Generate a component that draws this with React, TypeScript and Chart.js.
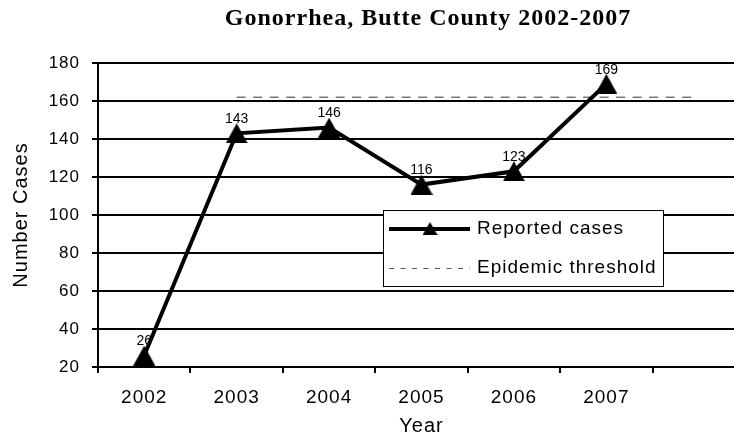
import React, { useEffect, useRef } from 'react';
import { Chart, registerables } from 'chart.js';

Chart.register(...registerables);

// ---- data ----
const categories = ['2002', '2003', '2004', '2005', '2006', '2007', ''];
const reportedCases = [26, 143, 146, 116, 123, 169, null];
const epidemicThreshold = [null, 162, 162, 162, 162, 162, 162];
const yMin = 20;
const yMax = 180;
const yStep = 20;
const titleText = 'Gonorrhea, Butte County 2002-2007';
const seriesNames = ['Reported cases', 'Epidemic threshold'];
const xTitle = 'Year';
const yTitle = 'Number Cases';

const SANS = "'Liberation Sans', Arial, sans-serif";
const SERIF = "'Liberation Serif', 'Times New Roman', serif";

function makeTriangle(w: number, h: number): HTMLCanvasElement {
  const c = document.createElement('canvas');
  c.width = w;
  c.height = h;
  const g = c.getContext('2d')!;
  g.fillStyle = '#000';
  g.beginPath();
  g.moveTo(w / 2, 0);
  g.lineTo(w, h);
  g.lineTo(0, h);
  g.closePath();
  g.fill();
  return c;
}

export default function App() {
  const ref = useRef<HTMLCanvasElement | null>(null);

  useEffect(() => {
    document.body.style.margin = '0';
    const canvas = ref.current!;
    const tri = makeTriangle(22, 20);
    const legendTri = makeTriangle(15, 13);

    const spacingPlugin = {
      id: 'spacing',
      beforeDraw(chart: any) {
        chart.ctx.letterSpacing = '1px';
      },
      afterDraw(chart: any) {
        chart.ctx.letterSpacing = '0px';
      },
    };

    const overlayPlugin = {
      id: 'overlay',
      afterDatasetsDraw(chart: any) {
        const ctx = chart.ctx as CanvasRenderingContext2D;
        // data labels
        ctx.save();
        (ctx as any).letterSpacing = '0px';
        ctx.font = `14px ${SANS}`;
        ctx.fillStyle = '#000';
        ctx.textAlign = 'center';
        ctx.textBaseline = 'middle';
        const meta = chart.getDatasetMeta(0);
        meta.data.forEach((pt: any, i: number) => {
          const v = reportedCases[i];
          if (v == null) return;
          ctx.fillText(String(v), pt.x, pt.y - 14);
        });
        ctx.restore();

        // legend box
        ctx.save();
        const lx = 383, ly = 210, lw = 280, lh = 76;
        ctx.fillStyle = '#fff';
        ctx.fillRect(lx, ly, lw, lh);
        ctx.strokeStyle = '#000';
        ctx.lineWidth = 1;
        ctx.strokeRect(lx + 0.5, ly + 0.5, lw, lh);
        // entry 1
        ctx.beginPath();
        ctx.lineWidth = 4;
        ctx.moveTo(389, 229);
        ctx.lineTo(470, 229);
        ctx.stroke();
        ctx.drawImage(legendTri, 430 - 7.5, 229 - 7);
        // entry 2
        ctx.beginPath();
        ctx.lineWidth = 1;
        ctx.strokeStyle = '#555';
        ctx.setLineDash([5, 6.5]);
        ctx.moveTo(389, 268.5);
        ctx.lineTo(470, 268.5);
        ctx.stroke();
        ctx.setLineDash([]);
        (ctx as any).letterSpacing = '1px';
        ctx.font = `19px ${SANS}`;
        ctx.fillStyle = '#000';
        ctx.textAlign = 'left';
        ctx.textBaseline = 'middle';
        ctx.fillText(seriesNames[0], 477, 229);
        ctx.fillText(seriesNames[1], 477, 268);
        ctx.restore();
      },
      afterDraw(chart: any) {
        const ctx = chart.ctx as CanvasRenderingContext2D;
        ctx.save();
        (ctx as any).letterSpacing = '1px';
        ctx.font = `bold 24px ${SERIF}`;
        ctx.fillStyle = '#000';
        ctx.textAlign = 'center';
        ctx.textBaseline = 'middle';
        ctx.fillText(titleText, 428, 19);
        ctx.restore();
      },
    };

    const chart = new Chart(canvas, {
      type: 'line',
      data: {
        labels: categories,
        datasets: [
          {
            label: seriesNames[0],
            data: reportedCases,
            borderColor: '#000',
            backgroundColor: '#000',
            borderWidth: 4,
            pointStyle: tri as any,
            pointRadius: 11,
            pointHoverRadius: 11,
            tension: 0,
            fill: false,
          },
          {
            label: seriesNames[1],
            data: epidemicThreshold,
            borderColor: '#333',
            borderWidth: 1,
            borderDash: [9, 7.5],
            pointRadius: 0,
            tension: 0,
            fill: false,
          },
        ],
      },
      options: {
        animation: false,
        responsive: false,
        events: [],
        layout: { padding: { top: 63, right: 13, left: 0, bottom: 0 } },
        plugins: {
          legend: { display: false },
          title: { display: false },
          tooltip: { enabled: false },
        },
        scales: {
          x: {
            type: 'category',
            offset: true,
            afterFit: (s: any) => {
              s.height = 69;
            },
            grid: {
              display: true,
              drawOnChartArea: false,
              offset: true,
              tickLength: 6,
              color: '#000',
              lineWidth: 2,
            },
            border: { display: true, color: '#000', width: 2 },
            ticks: {
              color: '#000',
              font: { family: SANS, size: 19 },
              padding: 13,
              maxRotation: 0,
              autoSkip: false,
            },
            title: {
              display: true,
              text: xTitle,
              color: '#000',
              font: { family: SANS, size: 20, lineHeight: 1 },
              padding: { top: 0, bottom: 0 },
            },
          },
          y: {
            min: yMin,
            max: yMax,
            afterFit: (s: any) => {
              s.width = 98;
            },
            ticks: {
              stepSize: yStep,
              color: '#000',
              font: { family: SANS, size: 17 },
              padding: 12,
            },
            grid: {
              color: '#000',
              lineWidth: 2,
              tickLength: 6,
            },
            border: { display: true, color: '#000', width: 2 },
            title: {
              display: true,
              text: yTitle,
              color: '#000',
              font: { family: SANS, size: 20 },
              padding: { top: 9, bottom: 0 },
            },
          },
        },
      },
      plugins: [spacingPlugin, overlayPlugin],
    });

    return () => chart.destroy();
  }, []);

  return (
    <div style={{ width: 734, height: 436, overflow: 'hidden' }}>
      <canvas ref={ref} width={760} height={436} style={{ display: 'block' }} />
    </div>
  );
}
